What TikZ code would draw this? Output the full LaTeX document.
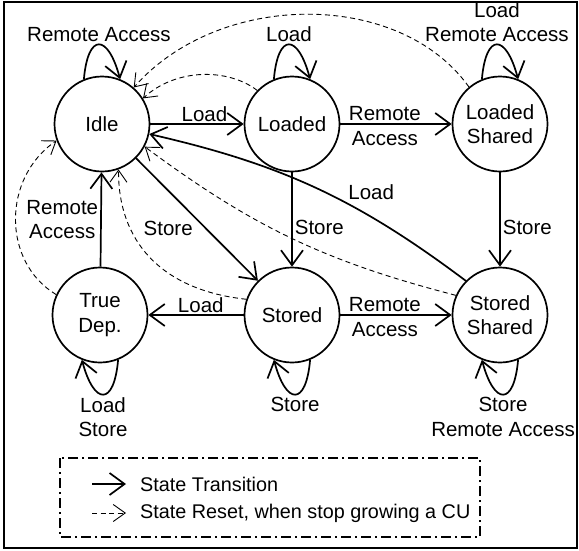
\documentclass[tikz,border=0pt]{standalone}
\usepackage{fontspec}
\setmainfont{Liberation Sans}
\usetikzlibrary{arrows.meta}
\begin{document}
\begin{tikzpicture}[x=1pt,y=1pt,
  every node/.style={font=\fontsize{20.5}{24.5}\selectfont},
  state/.style={circle,draw,line width=1.7pt,minimum size=95pt,inner sep=0pt,align=center},
  trans/.style={line width=1.7pt,-{Straight Barb[length=15pt,width=22pt,line width=1.7pt]}},
  reset/.style={line width=0.9pt,dash pattern=on 5pt off 3.5pt,-{Straight Barb[length=12pt,width=17pt,line width=0.9pt]}},
  lbl/.style={align=center,inner sep=2pt},
  legendtext/.style={anchor=west,inner sep=0pt,font=\fontsize{19.8}{24}\selectfont},
]
\useasboundingbox (0,0) rectangle (579,-550);
\draw[line width=1.1pt] (4,-2) rectangle (577,-548);

% states
\node[state] (Idle)   at (102,-124) {Idle};
\node[state] (Loaded) at (292,-124) {Loaded};
\node[state] (LS)     at (500,-124) {Loaded\\Shared};
\node[state] (TD)     at (100,-315) {True\\Dep.};
\node[state] (Stored) at (292,-315) {Stored};
\node[state] (SS)     at (500,-315) {Stored\\Shared};

% transitions
\draw[trans] (Idle) -- node[pos=0.58,above,inner sep=1pt]{Load} (Loaded);
\draw[trans] (Loaded) -- node[pos=0.4,lbl,yshift=-2pt]{Remote\\Access} (LS);
\draw[trans] (Stored) -- node[pos=0.4,lbl,yshift=-2pt]{Remote\\Access} (SS);
\draw[trans] (Stored) -- node[pos=0.45,above,inner sep=1pt]{Load} (TD);
\draw[trans] (Idle) -- node[pos=0.57,anchor=east,inner sep=2pt,xshift=-10pt]{Store} (Stored);
\draw[trans] (Loaded) -- node[pos=0.58,right,inner sep=2pt]{Store} (Stored);
\draw[trans] (LS) -- node[pos=0.58,right,inner sep=2pt]{Store} (SS);
\draw[trans] (TD) -- node[midway,left,lbl]{Remote\\Access} (Idle);
\draw[trans] (SS.135) to[bend right=12] node[pos=0.4,anchor=south west,inner sep=2pt]{Load} (Idle.-12);

% self loops
\draw[trans] (Idle.112) .. controls +(85:47) and +(105:47) .. node[pos=0.5,above,lbl]{Remote Access} (Idle.68);
\draw[trans] (Loaded.112) .. controls +(85:47) and +(105:47) .. node[pos=0.5,above,lbl]{Load} (Loaded.68);
\draw[trans] (LS.112) .. controls +(85:47) and +(105:47) .. node[pos=0.5,above,lbl]{Load\\Remote Access} (LS.68);
\draw[trans] (TD.-68) .. controls +(-95:47) and +(-75:47) .. node[pos=0.5,below,lbl]{Load\\Store} (TD.-112);
\draw[trans] (Stored.-68) .. controls +(-95:47) and +(-75:47) .. node[pos=0.5,below,lbl]{Store} (Stored.-112);
\draw[trans] (SS.-68) .. controls +(-95:47) and +(-75:47) .. node[pos=0.5,below,lbl]{Store\\Remote Access} (SS.-112);

% state resets
\draw[reset] (LS.130) .. controls (400,10) and (220,10) .. (Idle.49);
\draw[reset] (Loaded.136) .. controls (228,-68) and (176,-68) .. (Idle.32);
\draw[reset] (SS.156) to[bend left=11] (Idle.-28);
\draw[reset] (Stored.161) .. controls (160,-290) and (118,-240) .. (Idle.-70);
\draw[reset] (TD.155) .. controls (2,-262) and (2,-178) .. (Idle.200);

% legend
\draw[line width=1.3pt,dash pattern=on 10pt off 4pt on 2pt off 4pt] (60,-458) rectangle (480,-537);
\node[legendtext] (lt1) at (140,-484) {State Transition};
\node[legendtext] (lt2) at (140,-513) {State Reset, when stop growing a CU};
\coordinate (la1) at (92,-484);
\coordinate (lb1) at (126,-484);
\coordinate (la2) at (92,-513);
\coordinate (lb2) at (126,-513);
\draw[trans] (la1) -- (lb1);
\draw[reset] (la2) -- (lb2);
\end{tikzpicture}
\end{document}
